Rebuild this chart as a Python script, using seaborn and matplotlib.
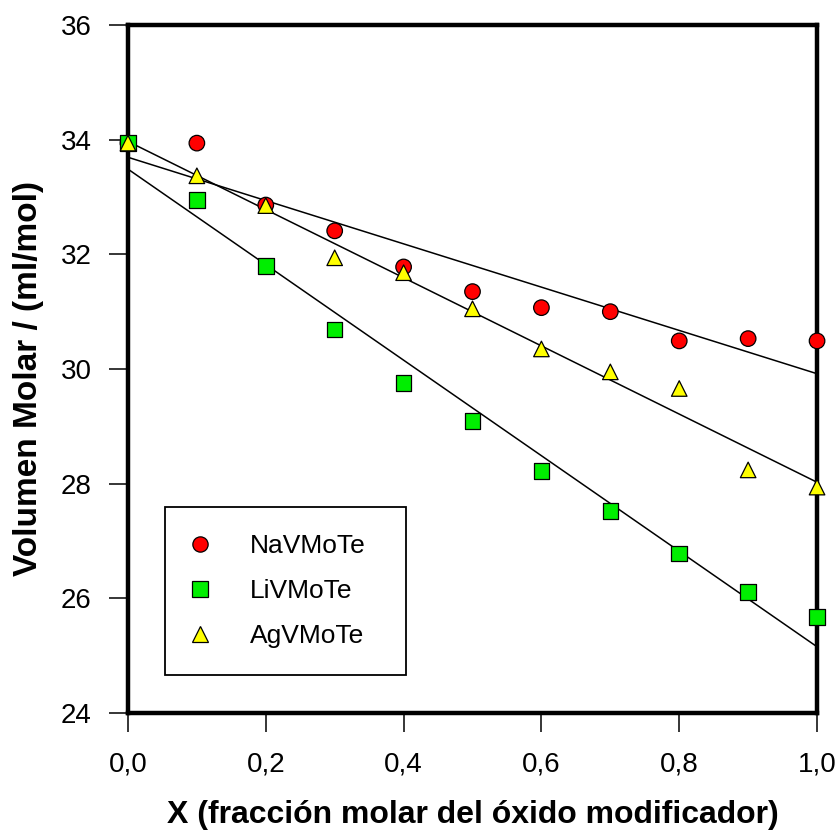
import numpy as np
import pandas as pd
import matplotlib
matplotlib.use("Agg")
import matplotlib.pyplot as plt
import seaborn as sns
from matplotlib.lines import Line2D

# ---- data ----
x_frac = [0.0, 0.1, 0.2, 0.3, 0.4, 0.5, 0.6, 0.7, 0.8, 0.9, 1.0]
na_vol = [33.94, 33.94, 32.86, 32.41, 31.78, 31.35, 31.07, 31.00, 30.49, 30.53, 30.49]
li_vol = [33.94, 32.95, 31.80, 30.69, 29.76, 29.09, 28.22, 27.52, 26.78, 26.11, 25.67]
ag_vol = [33.94, 33.37, 32.85, 31.94, 31.68, 31.05, 30.35, 29.95, 29.66, 28.24, 27.94]
series_names = ["NaVMoTe", "LiVMoTe", "AgVMoTe"]
x_ticks = [0.0, 0.2, 0.4, 0.6, 0.8, 1.0]
x_tick_labels = ["0,0", "0,2", "0,4", "0,6", "0,8", "1,0"]
y_ticks = [24, 26, 28, 30, 32, 34, 36]
y_tick_labels = ["24", "26", "28", "30", "32", "34", "36"]
x_label = "X (fracción molar del óxido modificador)"
y_label = "Volumen Molar / (ml/mol)"

colors = {"NaVMoTe": "#ff0000", "LiVMoTe": "#00ee00", "AgVMoTe": "#ffff00"}
markers = {"NaVMoTe": "o", "LiVMoTe": "s", "AgVMoTe": "^"}

df = pd.DataFrame({
    "x": x_frac * 3,
    "y": na_vol + li_vol + ag_vol,
    "serie": [s for s in series_names for _ in x_frac],
})

sns.set_style("white")
plt.rcParams["font.family"] = ["Liberation Sans", "DejaVu Sans"]
plt.rcParams["text.color"] = "black"
plt.rcParams["axes.labelcolor"] = "black"

fig = plt.figure(figsize=(8.38, 8.34), dpi=100)
ax = fig.add_axes([0.1527, 0.1451, 0.8223, 0.8249])

# regression lines
for s in series_names:
    sub = df[df["serie"] == s]
    sns.regplot(data=sub, x="x", y="y", ax=ax, scatter=False, ci=None,
                truncate=True,
                line_kws=dict(color="black", lw=1.1, zorder=2))

# markers
sns.scatterplot(data=df, x="x", y="y", hue="serie", style="serie",
                palette=colors, markers=markers, s=125,
                edgecolor="black", linewidth=0.9, ax=ax, legend=False,
                zorder=4, clip_on=False)

ax.set_xlim(0, 1)
ax.set_ylim(24, 36)
ax.set_xticks(x_ticks)
ax.set_xticklabels(x_tick_labels)
ax.set_yticks(y_ticks)
ax.set_yticklabels(y_tick_labels)
ax.tick_params(axis="both", which="major", bottom=True, left=True,
               top=False, right=False, direction="out", length=14,
               width=1.1, color="black", labelsize=20, labelcolor="black")
ax.tick_params(axis="x", pad=14)
ax.tick_params(axis="y", pad=12)
ax.set_xlabel(x_label, fontsize=23, fontweight="bold", labelpad=16,
              color="black")
ax.set_ylabel(y_label, fontsize=24, fontweight="bold", labelpad=12,
              color="black")
ax.yaxis.label.set_y(0.4855)
for sp in ax.spines.values():
    sp.set_visible(True)
    sp.set_color("black")
    sp.set_linewidth(3.2)
    sp.set_zorder(3)

handles = [Line2D([], [], linestyle="none", marker=markers[s],
                  markerfacecolor=colors[s], markeredgecolor="black",
                  markeredgewidth=0.9, markersize=11) for s in series_names]
leg = ax.legend(handles, series_names, loc="lower left",
                bbox_to_anchor=(0.0537, 0.0552, 0.35, 0.2442),
                mode="expand", borderaxespad=0, fontsize=19,
                frameon=True, fancybox=False, shadow=False,
                borderpad=1.02, handlelength=0.62, handletextpad=1.59,
                labelspacing=0.79)
leg.get_frame().set_edgecolor("black")
leg.get_frame().set_linewidth(1.3)
leg.get_frame().set_facecolor("white")
leg.get_frame().set_alpha(1)
for t in leg.get_texts():
    t.set_color("black")

fig.savefig("out.png", dpi=100)
